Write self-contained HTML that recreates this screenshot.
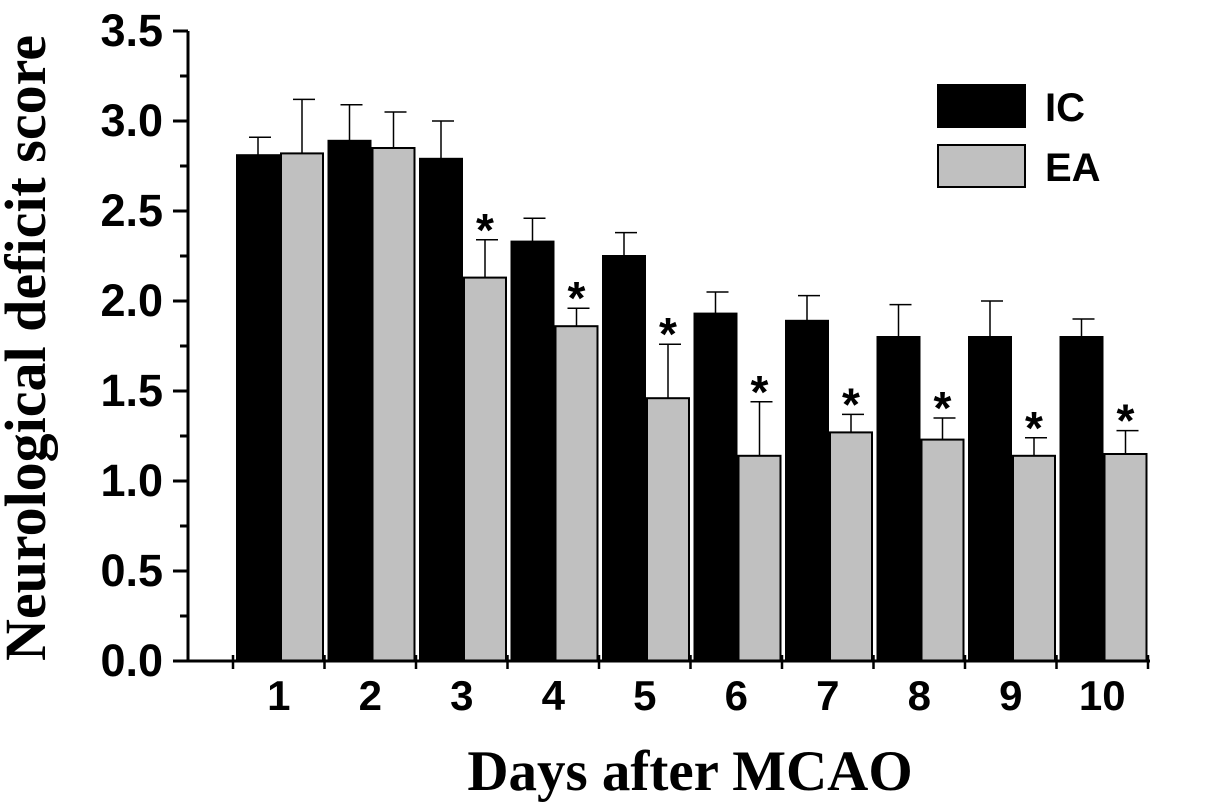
<!DOCTYPE html>
<html><head><meta charset="utf-8"><style>
html,body{margin:0;padding:0;background:#fff;}
svg{display:block;}
</style></head><body>
<svg id="c" width="1205" height="810" xmlns="http://www.w3.org/2000/svg">
<text x="45" y="348" transform="rotate(-90 45 348)" text-anchor="middle" font-family="Liberation Serif, serif" font-weight="bold" font-size="58">Neurological  deficit  score</text>
<text x="690" y="790" text-anchor="middle" font-family="Liberation Serif, serif" font-weight="bold" font-size="57">Days after MCAO</text>
<g>
<rect x="938" y="85" width="87" height="42" fill="#000" stroke="#000" stroke-width="2"/>
<text x="1045" y="121" font-family="Liberation Sans, sans-serif" font-weight="bold" font-size="40">IC</text>
<rect x="938" y="145" width="87" height="42" fill="#c0c0c0" stroke="#000" stroke-width="2"/>
<text x="1045" y="181" font-family="Liberation Sans, sans-serif" font-weight="bold" font-size="40">EA</text>
</g>
</svg>
<script>
const categories = ['1','2','3','4','5','6','7','8','9','10'];
const icValues = [2.81,2.89,2.79,2.33,2.25,1.93,1.89,1.80,1.80,1.80];
const icErrors = [0.10,0.20,0.21,0.13,0.13,0.12,0.14,0.18,0.20,0.10];
const eaValues = [2.82,2.85,2.13,1.86,1.46,1.14,1.27,1.23,1.14,1.15];
const eaErrors = [0.30,0.20,0.21,0.10,0.30,0.30,0.10,0.12,0.10,0.13];
const eaSignificant = [false,false,true,true,true,true,true,true,true,true];
const yTicks = ['0.0','0.5','1.0','1.5','2.0','2.5','3.0','3.5'];

const NS='http://www.w3.org/2000/svg';
const svg=document.getElementById('c');
const y0=661, pxPerUnit=180, yAxisX=188, xStart=233, groupW=91.5, barW=42;
const yS=v=>y0-v*pxPerUnit;
const gx=i=>xStart+i*groupW;
function mk(tag,attrs){const e=document.createElementNS(NS,tag);for(const k in attrs)e.setAttribute(k,attrs[k]);svg.appendChild(e);return e;}

categories.forEach((c,i)=>{
  const x1=gx(i)+4, x2=x1+barW+2;
  [[icValues,icErrors,x1,'#000','ic'],[eaValues,eaErrors,x2,'#c0c0c0','ea']].forEach(([vals,errs,x,fill,nm])=>{
    const v=vals[i], top=yS(v+errs[i]), cx=x+barW/2;
    const el=mk('line',{x1:cx,x2:cx,y1:top,y2:yS(v),stroke:'#000','stroke-width':1.5});
    
    
    const cap=mk('line',{x1:cx-9,x2:cx+13,y1:top,y2:top,stroke:'#000','stroke-width':1.5});
    
    
    const r=mk('rect',{x:x,y:yS(v),width:barW,height:y0-yS(v),fill:fill,stroke:'#000','stroke-width':2});
    
    
  });
  if(eaSignificant[i]){
    const t=mk('text',{x:x2+barW/2,y:yS(eaValues[i]+eaErrors[i])+6,'text-anchor':'middle','font-family':'Liberation Sans, sans-serif','font-weight':'bold','font-size':46});
    t.textContent='*';
    
    
  }
  const lb=mk('text',{x:gx(i)+groupW/2,y:710,'text-anchor':'middle','font-family':'Liberation Sans, sans-serif','font-weight':'bold','font-size':42});
  lb.textContent=c;
  
  
});

const ya=mk('line',{x1:yAxisX,x2:yAxisX,y1:yS(3.5),y2:y0,stroke:'#000','stroke-width':3});


const xa=mk('line',{x1:173,x2:gx(categories.length)+2,y1:y0,y2:y0,stroke:'#000','stroke-width':3});


for(let i=0;i<=categories.length;i++){
  const t=mk('line',{x1:gx(i),x2:gx(i),y1:y0-6,y2:y0+8,stroke:'#000','stroke-width':2.5});
  
  
}
yTicks.forEach((lab,i)=>{
  const v=parseFloat(lab), y=yS(v);
  const t=mk('line',{x1:173,x2:yAxisX,y1:y,y2:y,stroke:'#000','stroke-width':3});
  
  
  if(i<yTicks.length-1){
    const m=mk('line',{x1:180,x2:yAxisX,y1:yS(v+0.25),y2:yS(v+0.25),stroke:'#000','stroke-width':3});
    
    
  }
  const tx=mk('text',{x:163,y:y+15,'text-anchor':'end','font-family':'Liberation Sans, sans-serif','font-weight':'bold','font-size':45});
  tx.textContent=lab;
  
  
});
</script>
</body></html>
